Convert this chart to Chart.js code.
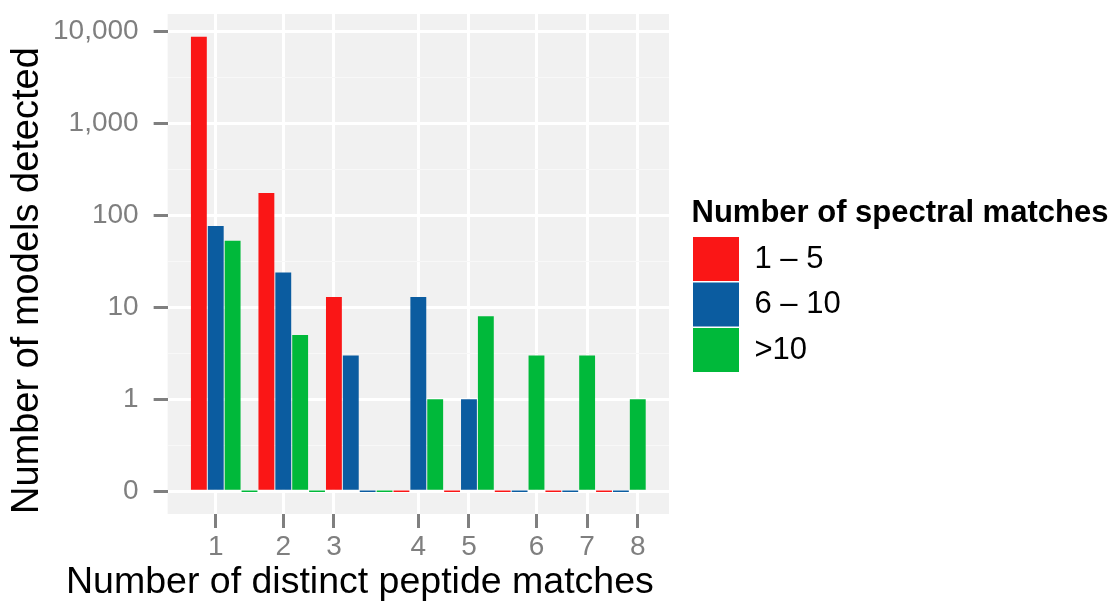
<!DOCTYPE html>
<html>
<head>
<meta charset="utf-8">
<script src="https://cdn.jsdelivr.net/npm/chart.js@4/dist/chart.umd.min.js"></script>
<style>
  html, body { margin: 0; padding: 0; background: #fff; }
  #wrap { width: 1120px; height: 613px; }
</style>
</head>
<body>
<div id="wrap"><canvas id="chart"></canvas></div>
<script>
// one entry per bar slot, left to right along the x axis
const barSeries = ['1-5', '6-10', '>10', '>10',
                   '1-5', '6-10', '>10', '>10',
                   '1-5', '6-10', '6-10', '>10', '1-5',
                   '6-10', '>10', '1-5',
                   '6-10', '>10', '1-5', '6-10',
                   '>10', '1-5', '6-10',
                   '>10', '1-5', '6-10',
                   '>10'];
const barCounts = [8800, 77, 53, 0,
                   176, 24, 5, 0,
                   13, 3, 0, 0, 0,
                   13, 1, 0,
                   1, 8, 0, 0,
                   3, 0, 0,
                   3, 0, 0,
                   1];

// x axis: number of distinct peptide matches, and the slot each tick sits on
const peptideLabels = ['1', '2', '3', '4', '5', '6', '7', '8'];
const peptideSlots = [1, 5, 8, 13, 16, 20, 23, 26];

// y axis ticks (counts)
const yTickValues = [0, 1, 10, 100, 1000, 10000];
const yTickLabels = ['0', '1', '10', '100', '1,000', '10,000'];

const seriesKeys = ['1-5', '6-10', '>10'];
const seriesNames = ['1 \u2013 5', '6 \u2013 10', '>10'];
const seriesColors = ['#FA1616', '#0B5CA0', '#00B93A'];

const xTitle = 'Number of distinct peptide matches';
const yTitle = 'Number of models detected';
const legendTitle = 'Number of spectral matches';

// counts are shown on a log10(n) + 1 scale, with 0 kept at the bottom
function toAxis(n) {
  return n > 0 ? Math.log10(n) + 1 : 0;
}

const yTop = toAxis(Math.max(...barCounts));
const yExpand = yTop * 0.05;
const xExpand = barCounts.length * 0.05;

const datasets = seriesKeys.map((key, s) => ({
  label: seriesNames[s],
  backgroundColor: seriesColors[s],
  borderWidth: 0,
  minBarLength: 1.5,
  grouped: false,
  categoryPercentage: 1,
  barPercentage: 0.94,
  data: barSeries
    .map((k, i) => (k === key ? { x: i, y: toAxis(barCounts[i]) } : null))
    .filter(p => p !== null)
}));

const panelBg = {
  id: 'panelBg',
  beforeDraw(chart) {
    const a = chart.chartArea;
    const ctx = chart.ctx;
    ctx.save();
    ctx.fillStyle = '#F1F1F1';
    ctx.fillRect(a.left, a.top, a.right - a.left, a.bottom - a.top);
    ctx.restore();
  }
};

const xTitlePlugin = {
  id: 'xTitle',
  afterDraw(chart) {
    const ctx = chart.ctx;
    ctx.save();
    ctx.font = '37.5px "Liberation Sans", Arial, sans-serif';
    ctx.fillStyle = '#000';
    ctx.textAlign = 'left';
    ctx.textBaseline = 'alphabetic';
    ctx.fillText(xTitle, 66, 593);
    ctx.restore();
  }
};

// the legend title is wider than its items; keep the legend box wide enough
// so the title is not clipped
const LEGEND_WIDTH = 428.5;
const legendWidthPlugin = {
  id: 'legendWidth',
  afterInit(chart) {
    const legend = chart.legend;
    if (!legend) return;
    const baseFit = legend.fit;
    legend.fit = function () {
      baseFit.call(this);
      this.width = LEGEND_WIDTH;
    };
  }
};

function noPadding(scale) {
  scale.paddingTop = 0;
  scale.paddingBottom = 0;
  scale.paddingLeft = 0;
  scale.paddingRight = 0;
}

const isMinor = c => c.tick && c.tick.minor;

Chart.defaults.font.family = '"Liberation Sans", Arial, sans-serif';

new Chart(document.getElementById('chart'), {
  type: 'bar',
  data: { datasets: datasets },
  plugins: [panelBg, xTitlePlugin, legendWidthPlugin],
  options: {
    responsive: true,
    maintainAspectRatio: false,
    animation: false,
    events: [],
    layout: { padding: { top: 14, left: 0, bottom: 47.4, right: 0 } },
    plugins: {
      tooltip: { enabled: false },
      legend: {
        position: 'right',
        align: 'start',
        title: {
          display: true,
          text: legendTitle,
          position: 'start',
          color: '#000',
          font: { size: 31, weight: 'bold' },
          padding: { top: 183.5, bottom: 0.8 }
        },
        labels: {
          boxWidth: 46,
          boxHeight: 44,
          padding: 1.5,
          color: '#000',
          font: { size: 31 }
        }
      }
    },
    scales: {
      x: {
        type: 'linear',
        offset: false,
        min: -0.5 - xExpand,
        max: barCounts.length - 0.5 + xExpand,
        afterBuildTicks(scale) {
          scale.ticks = peptideSlots.map(v => ({ value: v }));
        },
        afterFit: noPadding,
        border: { display: false },
        grid: {
          offset: false,
          color: '#FFFFFF',
          lineWidth: 3,
          tickColor: '#7F7F7F',
          tickWidth: 3,
          tickLength: 14
        },
        ticks: {
          autoSkip: false,
          maxRotation: 0,
          padding: 2,
          color: '#7F7F7F',
          font: { size: 28 },
          callback: (value) => peptideLabels[peptideSlots.indexOf(value)]
        }
      },
      y: {
        type: 'linear',
        min: -yExpand,
        max: yTop + yExpand,
        afterBuildTicks(scale) {
          const ticks = yTickValues.map(v => ({ value: toAxis(v) }));
          for (let i = 0; i < yTickValues.length - 1; i++) {
            ticks.push({ value: i + 0.5, minor: true });
          }
          scale.ticks = ticks.sort((a, b) => a.value - b.value);
        },
        afterFit: noPadding,
        border: { display: false },
        grid: {
          color: c => (isMinor(c) ? '#F8F8F8' : '#FFFFFF'),
          lineWidth: c => (isMinor(c) ? 1 : 3),
          tickColor: c => (isMinor(c) ? 'rgba(0,0,0,0)' : '#7F7F7F'),
          tickWidth: 3,
          tickLength: 14
        },
        ticks: {
          autoSkip: false,
          padding: 15,
          color: '#7F7F7F',
          font: { size: 28 },
          callback: (value, index, ticks) => {
            if (ticks[index].minor) return '';
            return yTickLabels[yTickValues.findIndex(v => toAxis(v) === value)];
          }
        },
        title: {
          display: true,
          text: yTitle,
          align: 'start',
          color: '#000',
          font: { size: 38, lineHeight: 1 },
          padding: { top: 8.5, bottom: -8.5 }
        }
      },
      gap: {
        type: 'linear',
        axis: 'y',
        position: 'right',
        display: true,
        border: { display: false },
        grid: { display: false, drawTicks: false },
        ticks: { display: false },
        afterFit(scale) {
          noPadding(scale);
          scale.width = 22.5;
        }
      }
    }
  }
});
</script>
</body>
</html>
